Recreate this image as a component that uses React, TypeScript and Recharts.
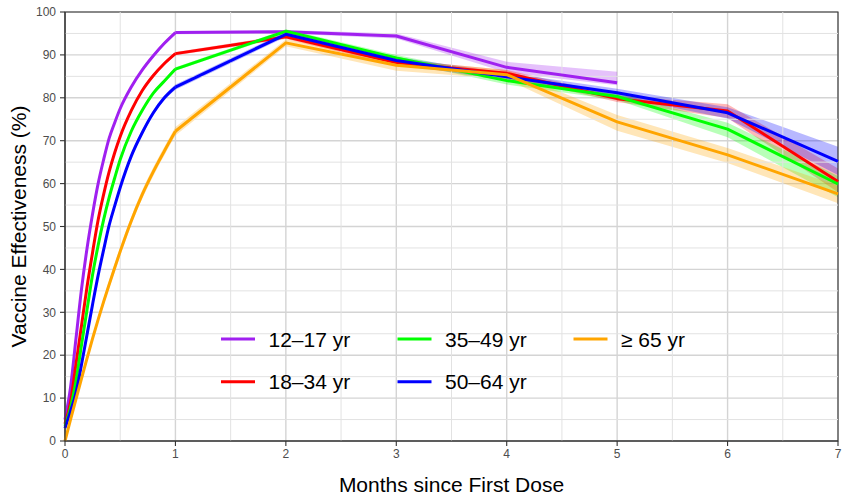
import React from 'react';
import {
  ComposedChart,
  Line,
  Area,
  XAxis,
  YAxis,
  CartesianGrid,
  ReferenceLine,
  ReferenceArea,
  Legend,
} from 'recharts';

// Months since first dose (dense in the first month where the curve rises)
const months = [0, 0.05, 0.1, 0.15, 0.2, 0.25, 0.3, 0.35, 0.4, 0.45, 0.5, 0.6, 0.7, 0.8, 0.9, 1, 2, 3, 4, 5, 6, 7];

// 12–17 yr
const ve12 = [5, 12.5, 24, 35.5, 45, 53, 60, 65.6, 70.6, 74.2, 77.5, 82.5, 86.5, 89.8, 92.7, 95.2, 95.4, 94.4, 87.1, 83.5, null, null];
const lo12 = [5, 12.3, 23.7, 35.2, 44.6, 52.6, 59.6, 65.2, 70.2, 73.8, 77.1, 82.1, 86.1, 89.4, 92.3, 94.8, 95.0, 93.8, 85.9, 82.9, null, null];
const hi12 = [5, 12.7, 24.3, 35.8, 45.4, 53.4, 60.4, 66.0, 71.0, 74.6, 77.9, 82.9, 86.9, 90.2, 93.1, 95.6, 95.8, 95.0, 88.4, 86.1, null, null];

// 18–34 yr
const ve18 = [4, 9, 18, 27, 36, 44, 51.5, 57.5, 62.8, 67.2, 71, 77, 81.7, 85.2, 88, 90.3, 94.2, 88.2, 85.7, 79.8, 76.9, 60.5];
const lo18 = [4, 8.9, 17.8, 26.8, 35.7, 43.7, 51.1, 57.1, 62.4, 66.8, 70.6, 76.6, 81.3, 84.8, 87.6, 89.9, 93.7, 87.5, 84.9, 79.0, 75.3, 58.0];
const hi18 = [4, 9.1, 18.2, 27.2, 36.3, 44.3, 51.9, 57.9, 63.2, 67.6, 71.4, 77.4, 82.1, 85.6, 88.4, 90.7, 94.7, 88.9, 86.5, 80.6, 78.5, 63.5];

// 35–49 yr
const ve35 = [3.5, 7.8, 14.1, 22.5, 30.7, 38.8, 45.6, 51.6, 56.8, 61.3, 65.6, 72.2, 77.1, 81.1, 83.9, 86.7, 95.5, 89.3, 84.0, 80.3, 72.7, 59.9];
const lo35 = [3.5, 7.6, 13.8, 22.2, 30.3, 38.4, 45.2, 51.2, 56.4, 60.9, 65.2, 71.8, 76.7, 80.7, 83.5, 86.3, 95.0, 88.6, 83.1, 79.5, 70.8, 56.8];
const hi35 = [3.5, 8.0, 14.4, 22.8, 31.1, 39.2, 46.0, 52.0, 57.2, 61.7, 66.0, 72.6, 77.5, 81.5, 84.3, 87.1, 96.0, 90.0, 84.9, 81.1, 74.2, 61.8];

// 50–64 yr
const ve50 = [3, 6.9, 11.3, 17.9, 24.9, 31.9, 38.6, 44.6, 50.3, 54.8, 59.1, 66.4, 71.9, 76.5, 80, 82.5, 94.8, 88.7, 84.9, 81.2, 76.5, 65.2];
const lo50 = [3, 6.5, 10.8, 17.4, 24.3, 31.3, 38.0, 44.0, 49.7, 54.2, 58.5, 65.8, 71.3, 75.9, 79.4, 81.9, 94.2, 87.9, 84.0, 80.3, 75.2, 62.0];
const hi50 = [3, 7.3, 11.8, 18.4, 25.5, 32.5, 39.2, 45.2, 50.9, 55.4, 59.7, 67.0, 72.5, 77.1, 80.6, 83.1, 95.4, 89.5, 85.8, 82.1, 77.8, 68.6];

// ≥ 65 yr
const ve65 = [0, 5, 9.8, 14.6, 19.3, 23.9, 28.3, 32.5, 36.5, 40.4, 44.2, 51.3, 57.5, 62.8, 67.6, 72.2, 92.8, 87.6, 85.4, 74.4, 66.7, 57.6];
const lo65 = [0, 4.7, 9.3, 14.0, 18.6, 23.2, 27.5, 31.6, 35.6, 39.4, 43.2, 50.3, 56.5, 61.8, 66.6, 71.2, 92.0, 86.3, 84.3, 72.3, 64.8, 55.4];
const hi65 = [0, 5.3, 10.3, 15.2, 20.0, 24.6, 29.1, 33.4, 37.4, 41.4, 45.2, 52.3, 58.5, 63.8, 68.6, 73.2, 93.6, 88.9, 86.5, 76.0, 68.3, 59.5];

const xTicks = [0, 1, 2, 3, 4, 5, 6, 7];
const xMinor = [0.5, 1.5, 2.5, 3.5, 4.5, 5.5, 6.5];
const yTicks = [0, 10, 20, 30, 40, 50, 60, 70, 80, 90, 100];
const yMinor = [5, 15, 25, 35, 45, 55, 65, 75, 85, 95];

const seriesDefs = [
  { key: 's12', name: '12\u201317 yr', color: '#A020F0', v: ve12, lo: lo12, hi: hi12 },
  { key: 's18', name: '18\u201334 yr', color: '#FF0000', v: ve18, lo: lo18, hi: hi18 },
  { key: 's35', name: '35\u201349 yr', color: '#00FF00', v: ve35, lo: lo35, hi: hi35 },
  { key: 's50', name: '50\u201364 yr', color: '#0000FF', v: ve50, lo: lo50, hi: hi50 },
  { key: 's65', name: '\u2265 65 yr', color: '#FFA500', v: ve65, lo: lo65, hi: hi65 },
];

// The first month is a smooth rise (drawn with a monotone curve),
// later months are joined by straight segments.
const data = months.map((m, i) => {
  const row: Record<string, any> = { month: m };
  seriesDefs.forEach((s) => {
    const v = s.v[i];
    const band = s.lo[i] == null || s.hi[i] == null ? null : [s.lo[i], s.hi[i]];
    row[s.key + '_early'] = m <= 1 ? v : null;
    row[s.key + '_late'] = m >= 1 ? v : null;
    row[s.key + '_bandEarly'] = m <= 1 ? band : null;
    row[s.key + '_bandLate'] = m >= 1 ? band : null;
  });
  return row;
});

const FONT = '"Liberation Sans", Arial, Helvetica, sans-serif';

const XTitle = (props: any) => {
  const vb = props.viewBox || { x: 65, width: 773 };
  return (
    <text x={vb.x + vb.width / 2} y={491.5} textAnchor="middle" fontSize={21} fontFamily={FONT} fill="#000">
      Months since First Dose
    </text>
  );
};

const YTitle = () => (
  <text transform="translate(25.5,226.5) rotate(-90)" x={0} y={0} textAnchor="middle" fontSize={21} fontFamily={FONT} fill="#000">
    Vaccine Effectiveness (%)
  </text>
);

const legendColX = [221, 397.5, 573.5];
const legendRowY = [339, 381.7];

const LegendContent = () => (
  <svg width={843} height={495} style={{ display: 'block', pointerEvents: 'none' }}>
    {seriesDefs.map((s, i) => {
      const col = Math.floor(i / 2);
      const row = i % 2;
      const x = legendColX[col];
      const y = legendRowY[row];
      return (
        <g key={s.key}>
          <line x1={x} x2={x + 34} y1={y} y2={y} stroke={s.color} strokeWidth={3} />
          <text x={x + 47.5} y={y + 7.5} fontSize={21} fontFamily={FONT} fill="#000">
            {s.name}
          </text>
        </g>
      );
    })}
  </svg>
);

export default function App() {
  return (
    <div style={{ position: 'absolute', left: 0, top: 0, width: 843, height: 495, background: '#fff' }}>
      <ComposedChart
        width={843}
        height={495}
        data={data}
        margin={{ top: 12, right: 5, bottom: 0, left: 0 }}
        style={{ fontFamily: FONT }}
      >
        <CartesianGrid stroke="#D4D4D4" strokeWidth={1.4} />
        {xMinor.map((v) => (
          <ReferenceLine key={'xm' + v} x={v} stroke="#E2E2E2" strokeWidth={1} />
        ))}
        {yMinor.map((v) => (
          <ReferenceLine key={'ym' + v} y={v} stroke="#E2E2E2" strokeWidth={1} />
        ))}
        <XAxis
          type="number"
          dataKey="month"
          domain={[0, 7]}
          ticks={xTicks}
          interval={0}
          height={54}
          tickSize={5}
          tickMargin={3}
          tick={{ fill: '#4D4D4D', fontSize: 12, fontFamily: FONT }}
          axisLine={{ stroke: '#333333', strokeWidth: 1.1 }}
          tickLine={{ stroke: '#333333', strokeWidth: 1.1 }}
          label={<XTitle />}
        />
        <YAxis
          type="number"
          domain={[0, 100]}
          ticks={yTicks}
          interval={0}
          width={65}
          tickSize={5}
          tickMargin={4}
          allowDataOverflow
          tick={{ fill: '#4D4D4D', fontSize: 12, fontFamily: FONT }}
          axisLine={{ stroke: '#333333', strokeWidth: 1.1 }}
          tickLine={{ stroke: '#333333', strokeWidth: 1.1 }}
          label={<YTitle />}
        />
        {seriesDefs.map((s) => (
          <Line
            key={s.key + '_early'}
            type="monotone"
            dataKey={s.key + '_early'}
            name={s.name}
            stroke={s.color}
            strokeWidth={3}
            strokeLinejoin="round"
            dot={false}
            activeDot={false}
            isAnimationActive={false}
            legendType="line"
          />
        ))}
        {seriesDefs.map((s) => (
          <Line
            key={s.key + '_late'}
            type="linear"
            dataKey={s.key + '_late'}
            name={s.name}
            stroke={s.color}
            strokeWidth={3}
            strokeLinejoin="round"
            dot={false}
            activeDot={false}
            isAnimationActive={false}
            legendType="none"
          />
        ))}
        {seriesDefs.map((s) => (
          <Area
            key={s.key + '_bandEarly'}
            type="monotone"
            dataKey={s.key + '_bandEarly'}
            stroke="none"
            fill={s.color}
            fillOpacity={0.28}
            dot={false}
            activeDot={false}
            isAnimationActive={false}
            legendType="none"
          />
        ))}
        {seriesDefs.map((s) => (
          <Area
            key={s.key + '_bandLate'}
            type="linear"
            dataKey={s.key + '_bandLate'}
            stroke="none"
            fill={s.color}
            fillOpacity={0.28}
            dot={false}
            activeDot={false}
            isAnimationActive={false}
            legendType="none"
          />
        ))}
        <ReferenceArea x1={0} x2={7} y1={0} y2={100} fill="none" stroke="#333333" strokeWidth={1.1} ifOverflow="visible" />
        <Legend
          verticalAlign="middle"
          align="center"
          layout="horizontal"
          content={<LegendContent />}
          wrapperStyle={{ left: 0, top: 0, width: 843, height: 495, pointerEvents: 'none' }}
        />
      </ComposedChart>
    </div>
  );
}
